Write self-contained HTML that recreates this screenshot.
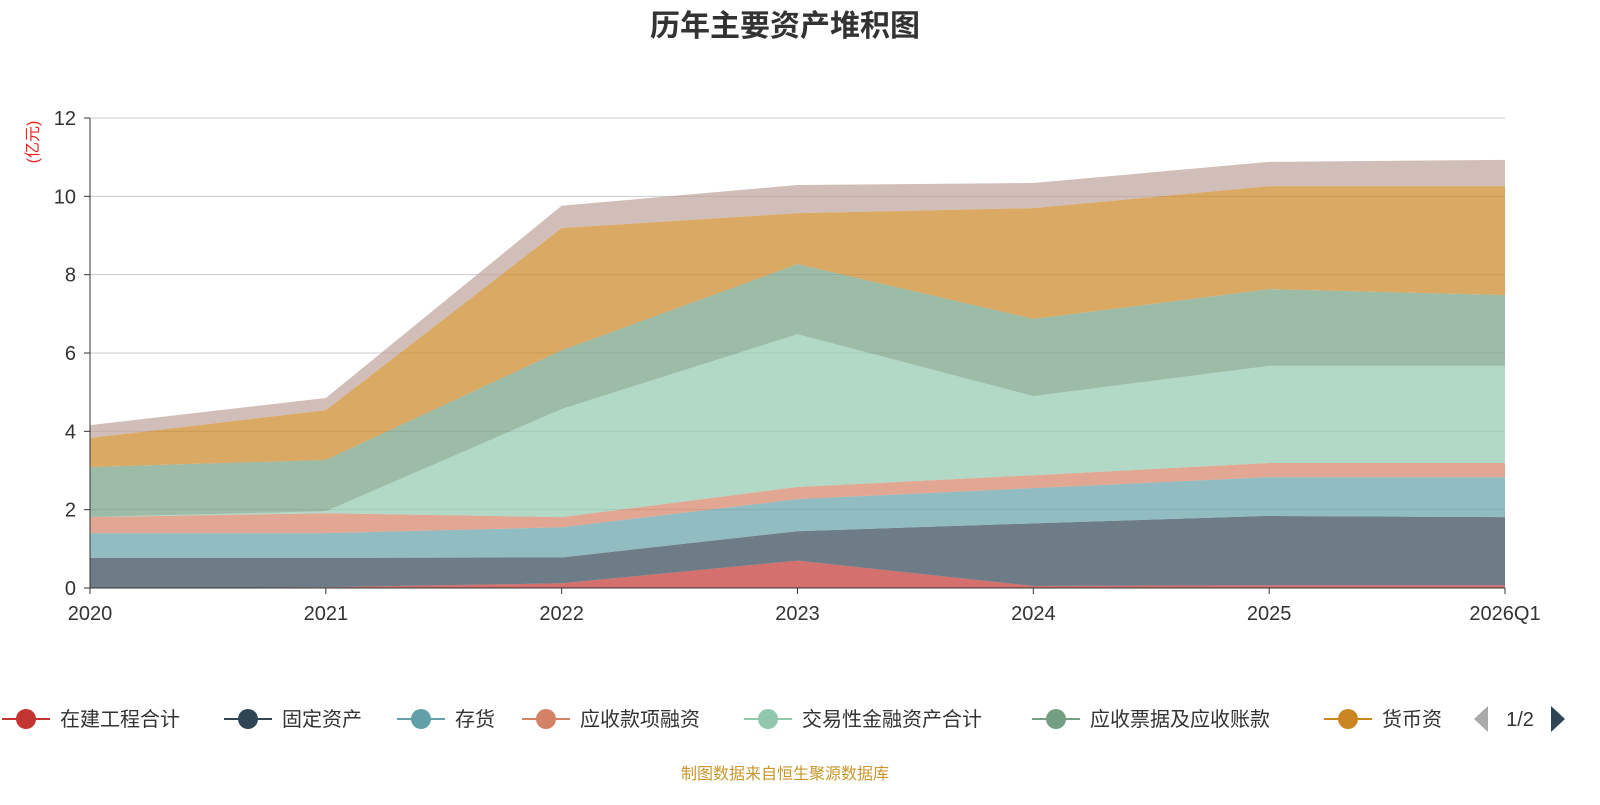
<!DOCTYPE html>
<html><head><meta charset="utf-8"><style>
body{margin:0;background:#fff;font-family:"Liberation Sans","Noto Sans CJK SC",sans-serif}
</style></head><body>
<svg id="chart" width="1600" height="800" xmlns="http://www.w3.org/2000/svg" font-family="Liberation Sans, Noto Sans CJK SC, sans-serif">
<text x="785" y="36" text-anchor="middle" font-size="30" font-weight="bold" fill="#333">历年主要资产堆积图</text>
<text transform="translate(38,142) rotate(-90)" text-anchor="middle" font-size="16" fill="#e22">(亿元)</text>
<g id="grid"></g><g id="areas"></g><g id="axes"></g><g id="legend"></g>
<text x="785" y="779" text-anchor="middle" font-size="16" fill="#c8962a">制图数据来自恒生聚源数据库</text>
</svg>
<script>
const categories=["2020","2021","2022","2023","2024","2025","2026Q1"];
const seriesNames=["在建工程合计","固定资产","存货","应收款项融资","交易性金融资产合计","应收票据及应收账款","货币资金","其他"];
const s1=[0,0.02,0.12,0.7,0.05,0.07,0.07];
const s2=[0.77,0.75,0.66,0.75,1.6,1.77,1.74];
const s3=[0.63,0.63,0.77,0.82,0.9,0.99,1.02];
const s4=[0.41,0.51,0.26,0.31,0.33,0.36,0.36];
const s5=[0,0.05,2.76,3.9,2.02,2.48,2.48];
const s6=[1.28,1.31,1.5,1.79,1.97,1.96,1.81];
const s7=[0.74,1.27,3.12,1.3,2.83,2.63,2.78];
const s8=[0.33,0.31,0.57,0.72,0.64,0.62,0.67];
const yTicks=[0,2,4,6,8,10,12];
const series=[s1,s2,s3,s4,s5,s6,s7,s8];
const colors=["#c23531","#2f4554","#61a0a8","#d48265","#91c7ae","#749f83","#ca8622","#bda29a"];
const NS="http://www.w3.org/2000/svg";
const X0=90,X1=1505,Y0=588,Y1=118,YMAX=12;
const xs=i=>X0+(X1-X0)*i/(categories.length-1);
const ys=v=>Y0-(Y0-Y1)*v/YMAX;
function mk(t,a,p){const e=document.createElementNS(NS,t);for(const k in a)e.setAttribute(k,a[k]);p.appendChild(e);return e;}
const grid=document.getElementById('grid'),areas=document.getElementById('areas'),axes=document.getElementById('axes'),legend=document.getElementById('legend');
yTicks.forEach(t=>{
 if(t>0){const l=mk('line',{x1:X0,x2:X1,y1:ys(t),y2:ys(t),stroke:'#ccc'},grid);
 
 }
 const tx=mk('text',{x:76,y:ys(t)+7,'text-anchor':'end','font-size':20,fill:'#333'},axes);tx.textContent=t;
 
 
 mk('line',{x1:84,x2:X0,y1:ys(t),y2:ys(t),stroke:'#333'},axes);
});
let base=categories.map(()=>0);
series.forEach((s,k)=>{
 const top=base.map((b,i)=>b+s[i]);
 let d='M'+top.map((v,i)=>xs(i)+','+ys(v)).join('L');
 for(let i=categories.length-1;i>=0;i--)d+='L'+xs(i)+','+ys(base[i]);
 const p=mk('path',{d:d+'Z',fill:colors[k],'fill-opacity':0.7,stroke:'none'},areas);
 
 
 base=top;
});
mk('line',{x1:X0,x2:X0,y1:Y1,y2:Y0,stroke:'#333'},axes);
mk('line',{x1:X0,x2:X1,y1:Y0,y2:Y0,stroke:'#333'},axes);
categories.forEach((c,i)=>{
 mk('line',{x1:xs(i),x2:xs(i),y1:Y0,y2:Y0+6,stroke:'#333'},axes);
 const t=mk('text',{x:xs(i),y:620,'text-anchor':'middle','font-size':20,fill:'#333'},axes);t.textContent=c;
 
 
});
const lx=[0,222,395,520,742,1030,1322];
const lw=[null,null,null,null,null,null,null];
for(let k=0;k<7;k++){
 const g=mk('g',{},legend);
 
 
 const x=lx[k]+2;
 mk('line',{x1:x,x2:x+48,y1:719,y2:719,stroke:colors[k],'stroke-width':2},g);
 mk('circle',{cx:x+24,cy:719,r:10,fill:colors[k]},g);
 const t=mk('text',{x:x+58,y:726,'font-size':20,fill:'#333'},g);t.textContent=k==6?'货币资':seriesNames[k];
}
const pl=mk('path',{d:'M1488,706L1474,719L1488,732Z',fill:'#aaa'},legend);


const pt=mk('text',{x:1520,y:726,'text-anchor':'middle','font-size':20,fill:'#333'},legend);pt.textContent='1/2';


const pn=mk('path',{d:'M1551,706L1565,719L1551,732Z',fill:'#2f4554'},legend);


</script>
</body></html>
